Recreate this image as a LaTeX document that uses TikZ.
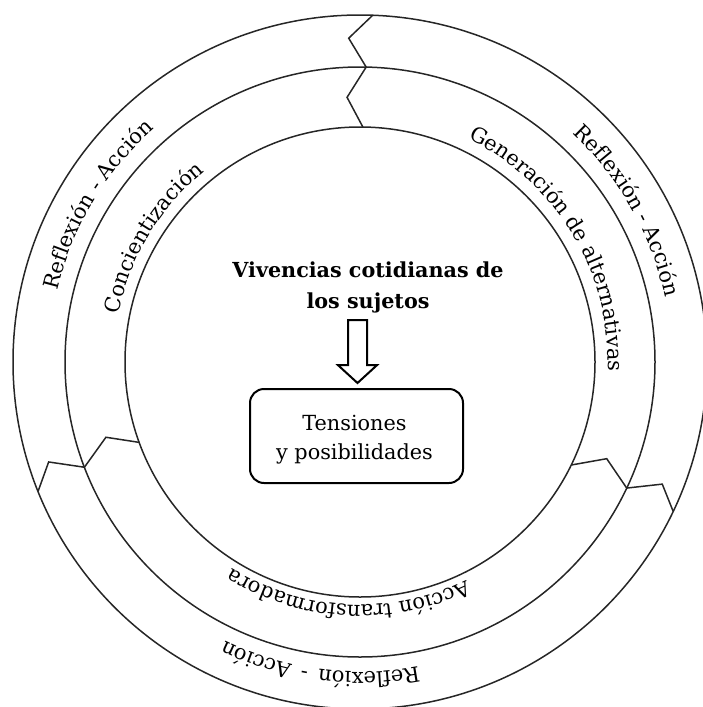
\documentclass[tikz,border=0pt]{standalone}
\usepackage{fontspec}
\setmainfont{DejaVu Serif}
\usetikzlibrary{decorations.text, shapes.arrows}

\newcommand{\ringfont}{\fontsize{21}{25}\selectfont}

\begin{document}
\begin{tikzpicture}[x=1pt, y=1pt,
  ring/.style={line width=1.5pt, draw=black!85},
  chevron/.style={line width=1.5pt, draw=black!85, line join=miter},
  arclabel/.style={decorate, decoration={text along path, text align=center,
      text={|\ringfont|#1}}},
  heading/.style={font=\fontsize{20.7}{31}\selectfont\bfseries, align=center, inner sep=0pt},
  core/.style={draw, line width=2pt, rounded corners=14pt, minimum width=213pt,
      minimum height=94pt, inner sep=0pt},
  corelabel/.style={align=center, font=\fontsize{20.8}{29}\selectfont, inner sep=0pt},
  hollowarrow/.style={draw, line width=2pt, single arrow, shape border rotate=270,
      minimum height=63pt, inner sep=8.5pt, single arrow head extend=10pt,
      single arrow tip angle=95},
]
\useasboundingbox (0,0) rectangle (703,-707);
\coordinate (C) at (360,-362);

% three concentric rings
\draw[ring] (C) circle[radius=347];
\draw[ring] (C) circle[radius=295];
\draw[ring] (C) circle[radius=235];

\begin{scope}[shift={(C)}]
  % zig-zag separators between the sectors
  \draw[chevron] (87.9:347) -- (92:324) -- (88.8:295) -- (92.8:265) -- (89.3:235);
  \draw[chevron] (201.9:347) -- (197.8:327) -- (200.9:295) -- (196.5:265) -- (200:235);
  \draw[chevron] (-25.5:347) -- (-22:326) -- (-25.3:295) -- (-21.4:265) -- (-26:235);

  % outer ring labels
  \path[arclabel={Reflexión - Acción}] (190:311) arc[start angle=190, end angle=108, radius=311];
  \path[arclabel={Reflexión{\hspace{6pt}}- Acción}] (72:312) arc[start angle=72, end angle=-13, radius=312];
  \path[arclabel={Reflexión{\hspace{10pt}}-{\hspace{10pt}}Acción}] (-52:310) arc[start angle=-52, end angle=-143, radius=310];

  % middle ring labels
  \path[arclabel={Concientización}] (192:246) arc[start angle=192, end angle=106, radius=246];
  \path[arclabel={Generación{\hspace{6pt}}de alternativas}] (82:248) arc[start angle=82, end angle=-20, radius=248];
  \path[arclabel={Acción transformadora}] (-40:243) arc[start angle=-40, end angle=-146, radius=243];
\end{scope}

% centre: experiences flowing into tensions and possibilities
\node[heading] (head) at (368,-287) {Vivencias cotidianas de\\los sujetos};
\node[core] (box) at (356.5,-436) {};
\node[corelabel] (boxlabel) at ([xshift=-2pt, yshift=-4pt]box.center) {Tensiones\\y posibilidades};
\node[hollowarrow, anchor=tail] (arr) at (357.5,-319) {};
\end{tikzpicture}
\end{document}
